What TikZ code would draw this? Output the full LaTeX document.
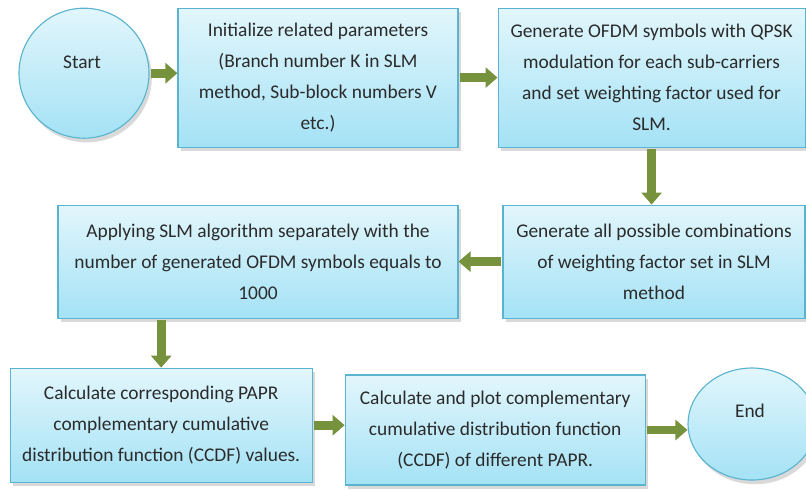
\documentclass[tikz,border=0pt]{standalone}
\usepackage{fontspec}
\setmainfont{Carlito}
\usetikzlibrary{arrows.meta, shapes.geometric, shadows}

\definecolor{boxtop}{HTML}{E2F6FC}
\definecolor{boxbot}{HTML}{A4E2F5}
\definecolor{boxline}{HTML}{5AB4CF}
\definecolor{flowgreen}{HTML}{76923C}
\definecolor{txt}{HTML}{2B2B2B}

\begin{document}
\begin{tikzpicture}[
    stepbox/.style={rectangle, draw=boxline, line width=0.8pt, top color=boxtop, bottom color=boxbot,
        drop shadow={opacity=0.3, shadow xshift=2pt, shadow yshift=-3pt},
        align=center, text=txt, inner sep=0pt,
        font=\fontsize{13.8}{22}\selectfont},
    terminal/.style={ellipse, draw=boxline, line width=0.8pt, top color=boxtop, bottom color=boxbot,
        drop shadow={opacity=0.3, shadow xshift=2pt, shadow yshift=-3pt},
        text=txt, inner sep=0pt, font=\fontsize{13.8}{22}\selectfont},
    flow/.style={-{Triangle[length=0.3cm, width=0.5cm]}, line width=0.22cm, draw=flowgreen, shorten <=1pt}
]
    \useasboundingbox (0,0) rectangle (20.15,-12.225);

    \node[terminal, minimum width=3.25cm, minimum height=3.25cm] (start) at (2.10, -1.83) {};
    \node[text=txt, font=\fontsize{13.8}{22}\selectfont] at (2.05, -1.55) {Start};
    \node[stepbox, minimum width=7.00cm, minimum height=3.475cm] (init) at (7.95, -1.94)
        {Initialize related parameters\\(Branch number K in SLM\\method, Sub-block numbers V\\etc.)};
    \node[stepbox, minimum width=7.675cm, minimum height=3.475cm] (gen) at (16.29, -1.94)
        {Generate OFDM symbols with QPSK\\modulation for each sub-carriers\\and set weighting factor used for\\SLM.};
    \node[stepbox, minimum width=7.55cm, minimum height=2.825cm] (combos) at (16.35, -6.54)
        {Generate all possible combinations\\of weighting factor set in SLM\\method};
    \node[stepbox, minimum width=10.0cm, minimum height=2.825cm] (apply) at (6.45, -6.54)
        {Applying SLM algorithm separately with the\\number of generated OFDM symbols equals to\\1000};
    \node[stepbox, minimum width=7.55cm, minimum height=2.85cm] (calc) at (4.03, -10.63)
        {Calculate corresponding PAPR\\complementary cumulative\\distribution function (CCDF) values.};
    \node[stepbox, minimum width=7.5cm, minimum height=2.75cm] (plot) at (12.38, -10.75)
        {Calculate and plot complementary\\cumulative distribution function\\(CCDF) of different PAPR.};
    \node[terminal, minimum width=3.2cm, minimum height=2.8cm] (end) at (18.80, -10.60) {};
    \node[text=txt, font=\fontsize{13.8}{22}\selectfont] at (18.75, -10.27) {End};

    \draw[flow] (start.east) -- (start.east -| init.west);
    \draw[flow] (init.east) -- (init.east -| gen.west);
    \draw[flow] (gen.south) -- (gen.south |- combos.north);
    \draw[flow] (combos.west) -- (apply.east);
    \draw[flow] (calc.north |- apply.south) -- (calc.north);
    \draw[flow] (calc.east) -- (calc.east -| plot.west);
    \draw[flow] (plot.east) -- (plot.east -| end.west);
\end{tikzpicture}
\end{document}
